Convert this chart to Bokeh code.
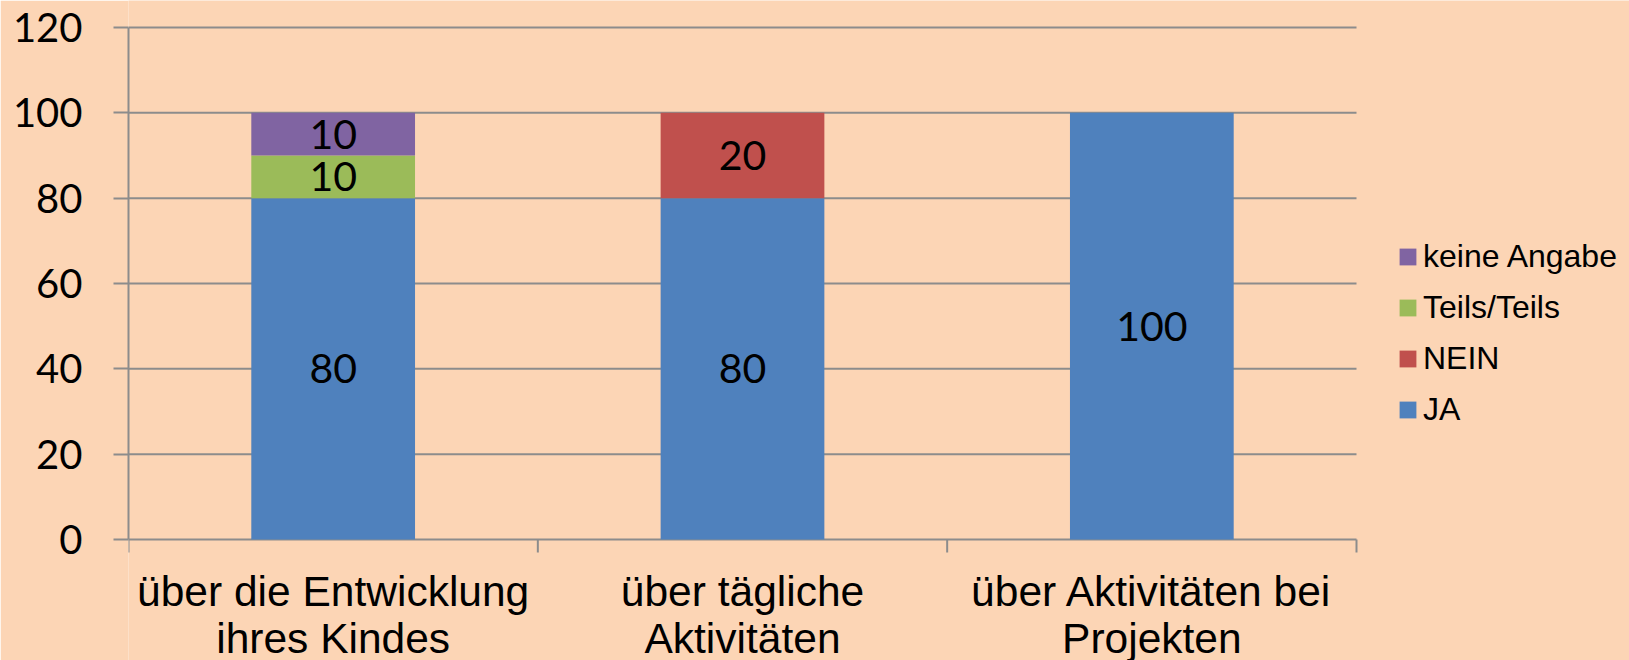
from bokeh.plotting import figure
from bokeh.models import Range1d, FixedTicker, Legend, LegendItem, ColumnDataSource
from bokeh.core.properties import value
from bokeh.embed import file_html
from bokeh.resources import INLINE

categories = ["über die Entwicklung\nihres Kindes", "über tägliche\nAktivitäten", "über Aktivitäten bei\nProjekten"]
series = ["JA", "NEIN", "Teils/Teils", "keine Angabe"]
ja = [80, 80, 100]
nein = [0, 20, 0]
teils = [10, 0, 0]
keine = [10, 0, 0]
colors = ["#4F81BD", "#C0504D", "#9BBB59", "#8064A2"]
y_ticks = [0, 20, 40, 60, 80, 100, 120]

BG = "#FCD5B5"
GRID = "#8C8C8C"

# layout (pixels)
FIG_W, FIG_H = 1629, 660
AX_LEFT, AX_RIGHT = 128, 1356     # plot area x extent
AX_TOP, AX_BOTTOM = 27, 539       # plot area y extent
Y_MAX = y_ticks[-1]
n = len(categories)

upp_x = n / (AX_RIGHT - AX_LEFT)
upp_y = Y_MAX / (AX_BOTTOM - AX_TOP)
x_range = Range1d(0, (FIG_W - AX_LEFT) * upp_x)
y_range = Range1d(-(FIG_H - AX_BOTTOM) * upp_y, Y_MAX + AX_TOP * upp_y)

xs = [i + 0.5 for i in range(n)]
data = {"x": xs, "JA": ja, "NEIN": nein, "Teils/Teils": teils, "keine Angabe": keine}
source = ColumnDataSource(data)

p = figure(width=FIG_W, height=FIG_H, output_backend="svg", toolbar_location=None,
           x_range=x_range, y_range=y_range,
           min_border_left=AX_LEFT, min_border_right=0, min_border_top=0, min_border_bottom=0)
p.background_fill_color = BG
p.border_fill_color = BG
p.outline_line_color = None
p.xaxis.visible = False
p.xgrid.grid_line_color = None
p.ygrid.grid_line_color = None

# horizontal gridlines over the plot area only
p.segment(x0=[0] * len(y_ticks), x1=[n] * len(y_ticks), y0=y_ticks, y1=y_ticks,
          line_color=GRID, line_width=2)
# category boundary ticks below the baseline
bounds = list(range(n + 1))
p.segment(x0=bounds, x1=bounds, y0=[0] * len(bounds), y1=[-13 * upp_y] * len(bounds),
          line_color=GRID, line_width=2)

renderers = p.vbar_stack(series, x="x", width=0.4, color=colors, line_color=None, source=source)

# segment labels
lx, ly, lt = [], [], []
bottoms = [0] * n
for s in series:
    for i, v in enumerate(data[s]):
        if v > 0:
            lx.append(xs[i])
            ly.append(bottoms[i] + v / 2)
            lt.append(str(v))
        bottoms[i] += v
p.text(x=lx, y=ly, text=lt, text_align="center", text_baseline="middle",
       text_font=value("Lato"), text_font_size="41px", text_color="black")

# category labels
p.text(x=xs, y=[0] * n, text=categories, text_align="center", text_baseline="top",
       y_offset=28, text_line_height=1.0,
       text_font=value("Liberation Sans"), text_font_size="42.5px", text_color="black")

# y axis
ya = p.yaxis[0]
ya.bounds = (0, Y_MAX)
ya.ticker = FixedTicker(ticks=y_ticks)
ya.axis_line_color = GRID
ya.axis_line_width = 2
ya.major_tick_line_color = GRID
ya.major_tick_line_width = 2
ya.major_tick_out = 15
ya.major_tick_in = 0
ya.minor_tick_line_color = None
ya.major_label_text_font = "Lato"
ya.major_label_text_font_size = "40px"
ya.major_label_text_color = "black"
ya.major_label_standoff = 31

items = [LegendItem(label=s, renderers=[r]) for s, r in zip(series, renderers)][::-1]
legend = Legend(items=items, location=(1269, 232), orientation="vertical",
                glyph_width=21, glyph_height=21, label_standoff=5, spacing=14,
                label_height=36, padding=0, margin=0, border_line_color=None,
                background_fill_alpha=0,
                label_text_font="Liberation Sans", label_text_font_size="32px",
                label_text_color="black")
p.add_layout(legend, "center")

open("out.html", "w").write(file_html(p, INLINE))
